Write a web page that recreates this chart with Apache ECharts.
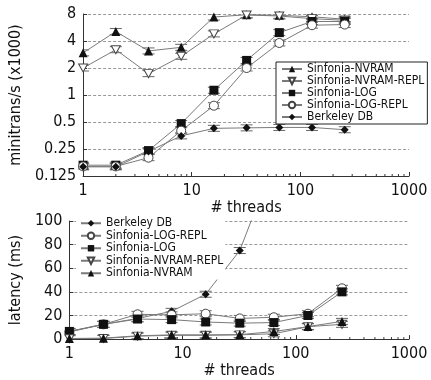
<!DOCTYPE html>
<html><head><meta charset="utf-8">
<script src="https://cdn.jsdelivr.net/npm/echarts@6/dist/echarts.min.js"></script>
<style>html,body{margin:0;padding:0;background:#fff}#c{width:431px;height:380px}</style>
</head><body><div id="c"></div>
<script>
// ---- data ----
const threads = [1, 2, 4, 8, 16, 32, 64, 128, 256];
// top: throughput (minitrans/s x1000)
const tpNVRAM     = [2.95, 5.1, 3.1, 3.4, 7.4, 7.85, 7.74, 7.45, 7.0];
const tpNVRAMREPL = [2.0, 3.2, 1.73, 2.7, 4.8, 7.8, 7.6, 7.1, 6.8];
const tpLOG       = [0.165, 0.165, 0.24, 0.48, 1.13, 2.43, 4.96, 6.6, 6.6];
const tpLOGREPL   = [0.16, 0.16, 0.2, 0.4, 0.76, 2.0, 3.8, 6.0, 6.1];
const tpBDB       = [0.158, 0.158, 0.235, 0.35, 0.425, 0.43, 0.435, 0.435, 0.41];
// bottom: latency (ms)
const latBDB       = [6.5, 12.5, 17.5, 23.5, 38, 75, 150];
const latLOGREPL   = [6, 12.5, 21, 20.5, 21.5, 17.5, 18.5, 21.5, 43];
const latLOG       = [6.5, 12.5, 17, 16.5, 14.5, 13.5, 14, 20, 40];
const latNVRAMREPL = [0.3, 0.5, 2.5, 3.2, 3.2, 3.6, 4.5, 10.5, 12.5];
const latNVRAM     = [0.5, 0.8, 2.8, 3.6, 3.6, 3.8, 6.4, 10.6, 15];
// tick labels
const xTicks = ['1', '10', '100', '1000'];
const yTicksTop = ['0.125', '0.25', '0.5', '1', '2', '4', '8'];
const yTicksBottom = ['0', '20', '40', '60', '80', '100'];
const names = ['Sinfonia-NVRAM', 'Sinfonia-NVRAM-REPL', 'Sinfonia-LOG', 'Sinfonia-LOG-REPL', 'Berkeley DB'];

const FONT = "'DejaVu Sans Condensed','Liberation Sans Narrow',sans-serif";
const LINE = '#7a7a7a';
const INK = '#111';
const minorX = [];
[1, 10, 100].forEach(d => { for (let k = 2; k <= 9; k++) minorX.push(d * k); });

const styles = {
  'Sinfonia-NVRAM': {symbol: 'triangle', symbolSize: 9, itemStyle: {color: INK}},
  'Sinfonia-NVRAM-REPL': {symbol: 'path://M0,0 L10,0 L5,9 Z', symbolSize: [9, 8], itemStyle: {color: '#fff', borderColor: '#444', borderWidth: 1}},
  'Sinfonia-LOG': {symbol: 'rect', symbolSize: 9, itemStyle: {color: INK}},
  'Sinfonia-LOG-REPL': {symbol: 'circle', symbolSize: 9, itemStyle: {color: '#fff', borderColor: '#444', borderWidth: 1}},
  'Berkeley DB': {symbol: 'diamond', symbolSize: 8, itemStyle: {color: INK}}
};

function zip(ys) { return ys.map((y, i) => [threads[i], y]); }
function lineSeries(name, ys, idx) {
  const s = styles[name];
  return {
    type: 'line', name, xAxisIndex: idx, yAxisIndex: idx, data: zip(ys),
    symbol: s.symbol, symbolSize: s.symbolSize, itemStyle: s.itemStyle,
    lineStyle: {color: LINE, width: 1}, showAllSymbol: true, animation: false, z: 3,
    emphasis: {disabled: true}, clip: true
  };
}
function capSeries(allData, idx) {
  return {
    type: 'custom', xAxisIndex: idx, yAxisIndex: idx, data: allData, silent: true, z: 2,
    animation: false, clip: true,
    renderItem: (params, api) => {
      const p = api.coord([api.value(0), api.value(1)]);
      const st = {stroke: '#666', lineWidth: 1};
      return {type: 'group', children: [
        {type: 'line', shape: {x1: p[0] - 6, y1: p[1] - 3, x2: p[0] + 6, y2: p[1] - 3}, style: st},
        {type: 'line', shape: {x1: p[0] - 6, y1: p[1] + 3, x2: p[0] + 6, y2: p[1] + 3}, style: st}
      ]};
    }
  };
}
function minorSeries(idx, ymin) {
  return {
    type: 'custom', xAxisIndex: idx, yAxisIndex: idx, data: minorX.map(v => [v, ymin]), silent: true,
    animation: false, clip: false, z: 1,
    renderItem: (params, api) => {
      const p = api.coord([api.value(0), api.value(1)]);
      return {type: 'line', shape: {x1: p[0], y1: p[1], x2: p[0], y2: p[1] - 2}, style: {stroke: '#333', lineWidth: 1}};
    }
  };
}
function xAxis(idx, gap) {
  return {
    type: 'log', logBase: 10, min: 1, max: 1000, gridIndex: idx,
    name: '# threads', nameLocation: 'middle', nameGap: gap,
    nameTextStyle: {fontFamily: FONT, fontSize: 16, color: INK},
    axisLine: {lineStyle: {color: '#333', width: 1}},
    axisTick: {inside: true, length: 4, lineStyle: {color: '#333'}},
    axisLabel: {fontFamily: FONT, fontSize: 16, color: INK, margin: 7,
      formatter: v => xTicks[Math.round(Math.log10(v))]},
    splitLine: {show: false}
  };
}

const topSeries = [['Sinfonia-NVRAM', tpNVRAM], ['Sinfonia-NVRAM-REPL', tpNVRAMREPL], ['Sinfonia-LOG', tpLOG], ['Sinfonia-LOG-REPL', tpLOGREPL], ['Berkeley DB', tpBDB]];
const botSeries = [['Berkeley DB', latBDB], ['Sinfonia-LOG-REPL', latLOGREPL], ['Sinfonia-LOG', latLOG], ['Sinfonia-NVRAM-REPL', latNVRAMREPL], ['Sinfonia-NVRAM', latNVRAM]];

const series = [];
series.push(minorSeries(0, 0.125), minorSeries(1, 0));
series.push(capSeries([].concat(...topSeries.map(s => zip(s[1]))), 0));
series.push(capSeries([].concat(...botSeries.map(s => zip(s[1]))), 1));
topSeries.forEach(s => series.push(lineSeries(s[0], s[1], 0)));
botSeries.forEach(s => series.push(lineSeries(s[0], s[1], 1)));

const legendText = {fontFamily: FONT, fontSize: 12, color: INK, padding: [0, 0, 0, 0]};
const option = {
  backgroundColor: '#fff',
  animation: false,
  grid: [
    {left: 83, right: 22, top: 14, bottom: 204},
    {left: 67, right: 22, top: 221, bottom: 40}
  ],
  xAxis: [xAxis(0, 19), xAxis(1, 21)],
  yAxis: [
    {
      type: 'log', logBase: 2, min: 0.125, max: 8, gridIndex: 0,
      name: 'minitrans/s (x1000)', nameLocation: 'middle', nameGap: 49,
      nameTextStyle: {fontFamily: FONT, fontSize: 16, color: INK},
      axisLine: {show: true, lineStyle: {color: '#333'}},
      axisTick: {inside: true, length: 4, lineStyle: {color: '#333'}},
      axisLabel: {fontFamily: FONT, fontSize: 16, color: INK, margin: 7,
        formatter: v => yTicksTop[Math.round(Math.log2(v)) + 3]},
      splitLine: {show: true, lineStyle: {color: '#999', type: [3, 2], width: 1}}
    },
    {
      type: 'value', min: 0, max: 100, interval: 20, gridIndex: 1,
      name: 'latency (ms)', nameLocation: 'middle', nameGap: 36,
      nameTextStyle: {fontFamily: FONT, fontSize: 16, color: INK},
      axisLine: {show: true, lineStyle: {color: '#333'}},
      axisTick: {inside: true, length: 4, lineStyle: {color: '#333'}},
      axisLabel: {fontFamily: FONT, fontSize: 16, color: INK, margin: 7,
        formatter: v => yTicksBottom[Math.round(v / 20)]},
      splitLine: {show: true, lineStyle: {color: '#999', type: [3, 2], width: 1}}
    }
  ],
  legend: [
    {
      data: names, orient: 'vertical', left: 276, top: 62,
      itemWidth: 20, itemHeight: 8, itemGap: 0, padding: [1, 3, 1, 5],
      backgroundColor: '#fff', borderColor: '#222', borderWidth: 1,
      textStyle: Object.assign({lineHeight: 12, height: 12}, legendText), selectedMode: false
    },
    {
      data: names.slice().reverse(), orient: 'vertical', left: 76, top: 217,
      itemWidth: 20, itemHeight: 8, itemGap: 0, padding: [0, 2, 0, 4],
      backgroundColor: '#fff', borderWidth: 0,
      textStyle: Object.assign({lineHeight: 12.5, height: 12.5}, legendText), selectedMode: false
    }
  ],
  series
};
const chart = echarts.init(document.getElementById('c'), null, {renderer: 'canvas'});
chart.setOption(option);
</script></body></html>
